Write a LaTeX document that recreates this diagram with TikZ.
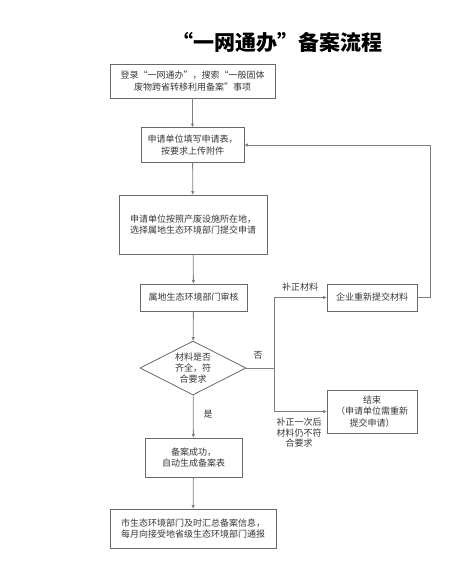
\documentclass[tikz,border=0pt]{standalone}
\usepackage{fontspec}
\newfontfamily\cjk{Noto Sans CJK SC}
\usetikzlibrary{arrows.meta,shapes.geometric,positioning,calc}
\definecolor{linegray}{RGB}{128,128,128}
\definecolor{boxgray}{RGB}{105,105,105}
\definecolor{darktext}{RGB}{55,55,55}

\begin{document}
\begin{tikzpicture}[x=1pt,y=-1pt,
    box/.style={draw=boxgray,line width=0.8pt,inner sep=2pt,
                font=\cjk\fontsize{9}{11.5}\selectfont,text=darktext,align=center},
    decide/.style={diamond,draw=boxgray,line width=0.8pt,shape aspect=2,inner sep=1pt,
                minimum width=106pt,minimum height=54pt,
                font=\cjk\fontsize{9}{11}\selectfont,text=darktext,align=center},
    lbl/.style={font=\cjk\fontsize{9}{10.5}\selectfont,text=darktext,align=center},
    arrow/.style={-{Triangle[length=3.5pt,width=3pt]},line width=0.8pt,color=linegray}
]
\useasboundingbox (0,0) rectangle (469,573);
% title
\node[font=\cjk\bfseries\fontsize{21}{24}\selectfont,text=black] (title) at (277,42) {“一网通办”备案流程};
% main column
\node[box,minimum width=165pt,minimum height=34pt] (login) at (192.5,81)
    {登录“一网通办”，搜索“一般固体\\废物跨省转移利用备案”事项};
\node[box,minimum width=103pt,minimum height=35pt] (apply) at (192.5,145)
    {申请单位填写申请表，\\按要求上传附件};
\node[box,minimum width=148pt,minimum height=59pt] (submit) at (193,224.5)
    {申请单位按照产废设施所在地，\\选择属地生态环境部门提交申请};
\node[box,minimum width=107pt,minimum height=27pt] (review) at (193.5,297.5)
    {属地生态环境部门审核};
\node[decide] (check) at (193,368) {材料是否\\齐全，符\\合要求};
\node[box,minimum width=97pt,minimum height=39pt] (done) at (193.5,457.5)
    {备案成功，\\自动生成备案表};
\node[box,minimum width=166pt,minimum height=39pt] (report) at (193,528.5)
    {市生态环境部门及时汇总备案信息，\\每月向接受地省级生态环境部门通报};
% right branch
\node[box,minimum width=90pt,minimum height=27pt] (resub) at (372,297.5)
    {企业重新提交材料};
\node[box,minimum width=90pt,minimum height=43pt] (stop) at (372,411.5)
    {结束\\（申请单位需重新\\提交申请）};
\coordinate (split) at (274,368);
\coordinate (back) at (430,297.5);

\draw[arrow] (login) -- (apply);
\draw[arrow] (apply) -- (submit);
\draw[arrow] (submit) -- (review);
\draw[arrow] (review) -- (check);
\draw[arrow] (check) -- (done);
\draw[arrow] (done) -- (report);
\draw[line width=0.8pt,color=linegray] (check.east) -- (split);
\draw[arrow] (split) |- (resub.west);
\draw[arrow] (split) |- (stop.west);
\draw[arrow] (resub.east) -- (back) |- (apply.east);

\node[lbl] (no) at (258,355) {否};
\node[lbl] (yes) at (208,414) {是};
\node[lbl] (fix) at (300,287) {补正材料};
\node[lbl] (fail) at (299,433) {补正一次后\\材料仍不符\\合要求};
\end{tikzpicture}
\end{document}
